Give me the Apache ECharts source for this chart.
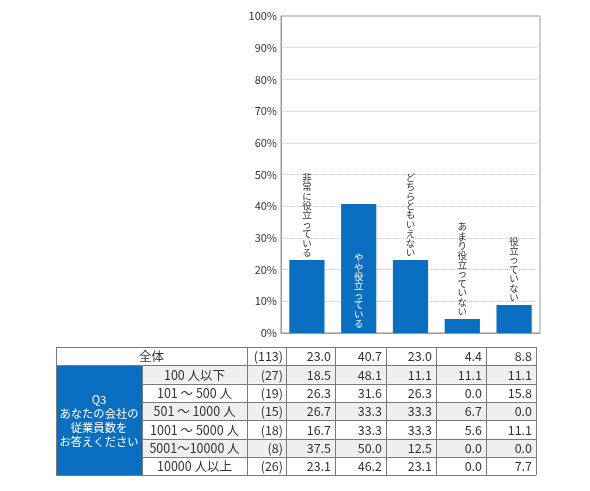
<!DOCTYPE html>
<html>
<head>
<meta charset="utf-8">
<script src="https://cdn.jsdelivr.net/npm/echarts@6/dist/echarts.min.js"></script>
<style>
  html, body { margin: 0; padding: 0; background: #fff; }
  #main { width: 590px; height: 491px; }
</style>
</head>
<body>
<div id="main"></div>
<script>
// 回答カテゴリ
var categories = ['非常に役立っている', 'やや役立っている', 'どちらともいえない', 'あまり役立っていない', '役立っていない'];
// 全体の割合 (%)
var overall = [23.0, 40.7, 23.0, 4.4, 8.8];
var totalN = 113;
// 従業員数別
var groupLabels = ['100 人以下', '101 〜 500 人', '501 〜 1000 人', '1001 〜 5000 人', '5001〜10000 人', '10000 人以上'];
var groupN = [27, 19, 15, 18, 8, 26];
var groupValues = [
  [18.5, 48.1, 11.1, 11.1, 11.1],
  [26.3, 31.6, 26.3, 0.0, 15.8],
  [26.7, 33.3, 33.3, 6.7, 0.0],
  [16.7, 33.3, 33.3, 5.6, 11.1],
  [37.5, 50.0, 12.5, 0.0, 0.0],
  [23.1, 46.2, 23.1, 0.0, 7.7]
];
var questionText = 'Q3\nあなたの会社の\n従業員数を\nお答えください';

var FONT = '"Noto Sans CJK JP", "Noto Sans", sans-serif';
var BLUE = '#0B6FC1';
var TXT = '#333';

var chart = echarts.init(document.getElementById('main'));

// 縦書きラベル
function vertical(s) {
  return s.split('').join('\n');
}

var barData = overall.map(function (v, i) {
  var inside = i === 1;
  return {
    value: v,
    label: {
      show: true,
      position: inside ? 'insideBottom' : 'top',
      distance: inside ? 5 : 3,
      color: inside ? '#fff' : TXT,
      fontSize: 9.5,
      lineHeight: 9.4,
      fontFamily: FONT,
      formatter: vertical(categories[i])
    }
  };
});

// 表の罫線・セル
var colX = [56, 142, 247, 286, 335, 386, 436, 486, 536];
var tableTop = 347, rowH = 18.3, nRows = 7;
var tableBottom = tableTop + rowH * nRows;
var g = [];

function rect(x, y, w, h, fill) {
  g.push({ type: 'rect', shape: { x: x, y: y, width: w, height: h }, style: { fill: fill }, silent: true });
}
function line(x1, y1, x2, y2) {
  g.push({ type: 'line', shape: { x1: x1, y1: y1, x2: x2, y2: y2 }, style: { stroke: '#7a7a7a', lineWidth: 1 }, silent: true });
}
function text(str, x, y, align, color, size, lh) {
  g.push({
    type: 'text', x: x, y: y, silent: true,
    style: { text: str, align: align, verticalAlign: 'middle', fill: color || TXT,
      fontSize: size || 12.5, lineHeight: lh, fontFamily: FONT }
  });
}

// 背景
for (var r = 1; r < nRows; r++) {
  if (r % 2 === 1) rect(colX[1], tableTop + r * rowH, colX[8] - colX[1], rowH, '#efefef');
}
rect(colX[0], tableTop + rowH, colX[1] - colX[0], rowH * 6, BLUE);

// 横線
for (var r = 0; r <= nRows; r++) {
  var y = Math.round(tableTop + r * rowH) + 0.5;
  var x0 = (r === 0 || r === 1 || r === nRows) ? colX[0] : colX[1];
  line(x0, y, colX[8], y);
}
// 縦線
for (var c = 0; c < colX.length; c++) {
  var x = colX[c] + 0.5;
  if (c === 1) line(x, tableTop + rowH, x, tableBottom);
  else line(x, tableTop, x, tableBottom);
}

// 全体の行
var cy = tableTop + rowH / 2 + 0.5;
text('全体', (colX[0] + colX[2]) / 2, cy, 'center');
text('(' + totalN + ')', colX[3] - 3, cy, 'right');
overall.forEach(function (v, i) {
  text(v.toFixed(1), colX[4 + i] - 4, cy, 'right');
});
// 属性別
groupLabels.forEach(function (lab, r) {
  var y = tableTop + (r + 1.5) * rowH + 0.5;
  text(lab, (colX[1] + colX[2]) / 2, y, 'center');
  text('(' + groupN[r] + ')', colX[3] - 3, y, 'right');
  groupValues[r].forEach(function (v, i) {
    text(v.toFixed(1), colX[4 + i] - 4, y, 'right');
  });
});
text(questionText, (colX[0] + colX[1]) / 2, tableTop + rowH * 4 + 1, 'center', '#fff', 11.3, 14);

var option = {
  animation: false,
  grid: {
    left: 281, right: 50, top: 16, bottom: 158,
    show: true, borderColor: '#999', borderWidth: 1
  },
  xAxis: {
    type: 'category',
    data: categories,
    axisLine: { lineStyle: { color: '#999' } },
    axisTick: { show: false },
    axisLabel: { show: false }
  },
  yAxis: {
    type: 'value',
    min: 0, max: 100, interval: 10,
    axisLine: { show: true, lineStyle: { color: '#999' } },
    axisTick: { show: false },
    axisLabel: { formatter: '{value}%', color: TXT, fontSize: 11, fontFamily: FONT, margin: 4 },
    splitLine: { lineStyle: { type: 'dotted', color: '#c8c8c8' } }
  },
  series: [{
    type: 'bar',
    barWidth: '68%',
    itemStyle: { color: BLUE },
    data: barData
  }],
  graphic: g
};
chart.setOption(option);
</script>
</body>
</html>
